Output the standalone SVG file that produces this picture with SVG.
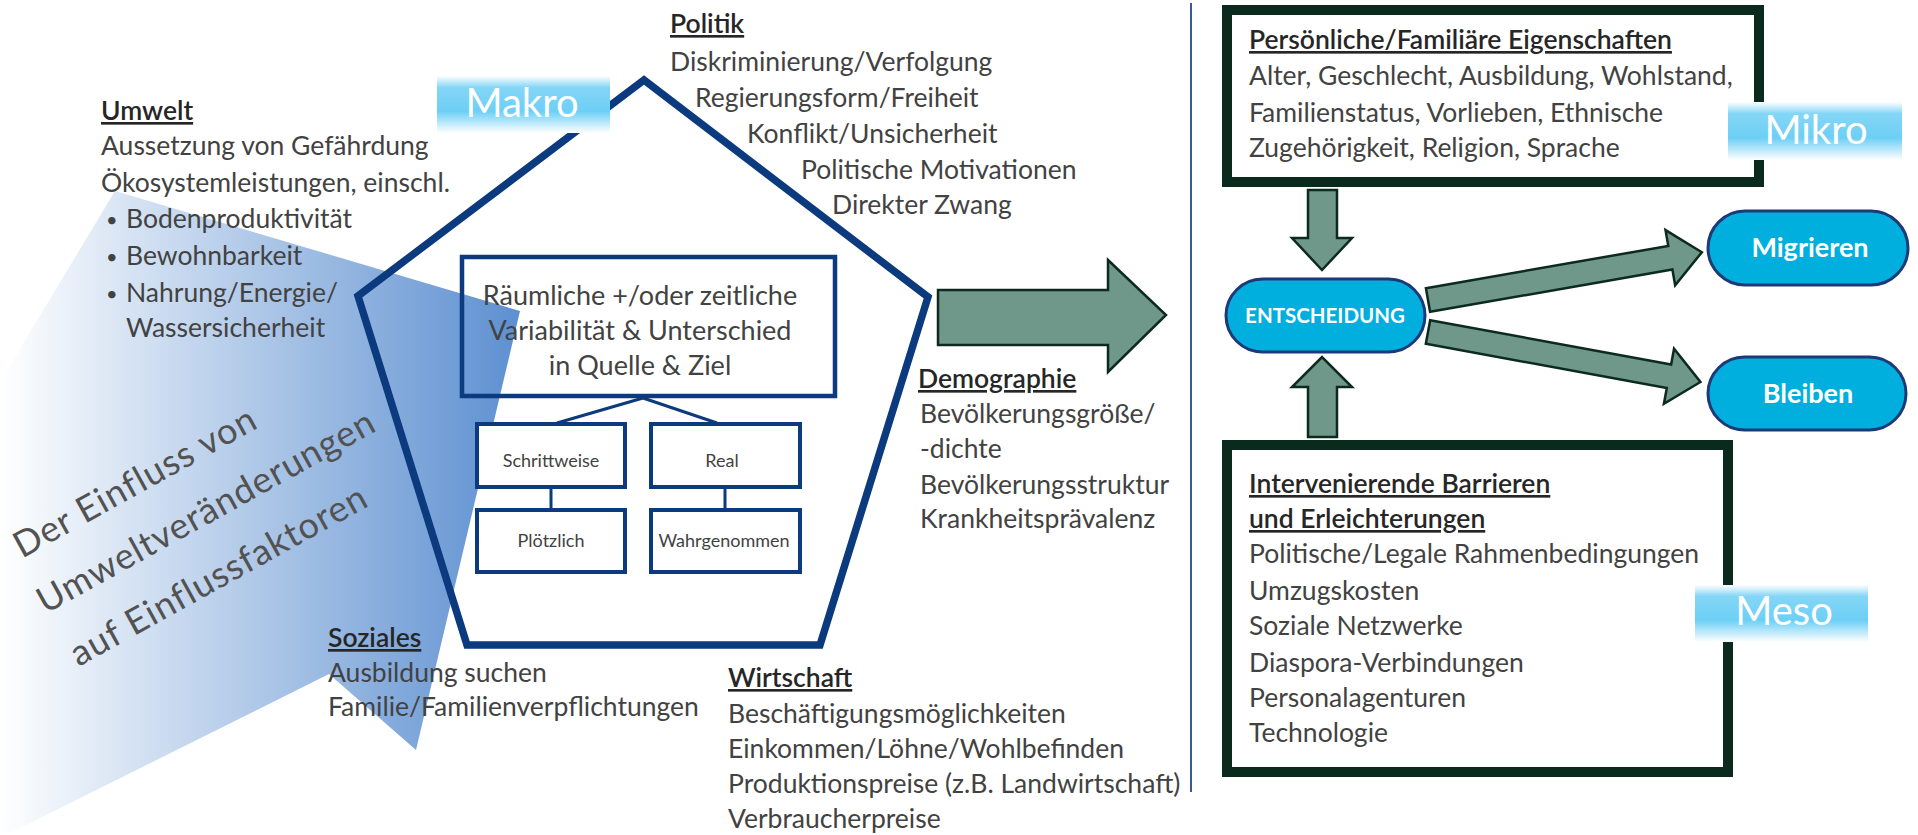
<svg xmlns="http://www.w3.org/2000/svg" width="1918" height="835" viewBox="0 0 1918 835">
<defs>
<linearGradient id="shade" gradientUnits="userSpaceOnUse" x1="0" y1="0" x2="522" y2="0">
<stop offset="0" stop-color="#ffffff"/>
<stop offset="1" stop-color="#5c8fd0"/>
</linearGradient>
<linearGradient id="lbl" x1="0" y1="0" x2="0" y2="1">
<stop offset="0" stop-color="#ffffff"/>
<stop offset="0.2" stop-color="#84d6f6"/>
<stop offset="0.62" stop-color="#6dcff6"/>
<stop offset="1" stop-color="#ffffff"/>
</linearGradient>
<style>
text{font-family:Lato,"Liberation Sans",sans-serif}
.b{font-size:26.5px;fill:#424242}
.bu{font-size:20px;fill:#424242}
.h{font-size:26.5px;fill:#262626;font-weight:600;text-decoration:underline}
.bx{font-size:27px;fill:#424242;text-anchor:middle}
.sm{font-size:18px;fill:#424242;text-anchor:middle}
.lbl{font-size:40px;fill:#ffffff;text-anchor:middle}
.pill{fill:#00afdd;stroke:#1d3a78;stroke-width:3}
.pt{fill:#ffffff;font-weight:bold;text-anchor:middle}
.gbox{fill:#ffffff;stroke:#0a2a1e;stroke-width:10}
.nav{fill:none;stroke:#0b3a7e}
.sub{fill:#ffffff;stroke:#0b3a7e;stroke-width:4}
.arr{fill:#6f978a;stroke:#0d2a1e;stroke-width:2.5;stroke-linejoin:miter}
.ln{stroke:#0b3a7e;stroke-width:3;fill:none}
</style>
</defs>
<rect width="1918" height="835" fill="#ffffff"/>

<g id="influence">
<polygon points="115,191 520,311 416,750 329,674 0,838 0,382" fill="url(#shade)"/>
<g transform="translate(212,522) rotate(-29)" font-size="36" fill="#525252" text-anchor="middle" letter-spacing="1">
<text x="-48" y="-60">Der Einfluss von</text>
<text x="0" y="0">Umweltveränderungen</text>
<text x="-20" y="62">auf Einflussfaktoren</text>
</g>
</g>

<g id="makro-pentagon">
<polygon class="nav" stroke-width="7.5" stroke-linejoin="miter" points="644,80 928,297 820,645 467,645 358,296"/>
</g>

<g id="makro-label">
<rect x="437" y="76" width="173" height="57" fill="url(#lbl)"/>
<text class="lbl" x="522" y="117">Makro</text>
</g>

<g id="umwelt">
<text class="h" x="101" y="120">Umwelt</text>
<text class="b" x="101" y="155">Aussetzung von Gefährdung</text>
<text class="b" x="101" y="192">Ökosystemleistungen, einschl.</text>
<text class="bu" x="106" y="227">•</text><text class="b" x="126" y="228">Bodenproduktivität</text>
<text class="bu" x="106" y="264">•</text><text class="b" x="126" y="265">Bewohnbarkeit</text>
<text class="bu" x="106" y="301">•</text><text class="b" x="126" y="302">Nahrung/Energie/</text>
<text class="b" x="126" y="337">Wassersicherheit</text>
</g>

<g id="politik">
<text class="h" x="670" y="33">Politik</text>
<text class="b" x="670" y="71">Diskriminierung/Verfolgung</text>
<text class="b" x="695" y="107">Regierungsform/Freiheit</text>
<text class="b" x="747" y="143">Konflikt/Unsicherheit</text>
<text class="b" x="801" y="179">Politische Motivationen</text>
<text class="b" x="832" y="214">Direkter Zwang</text>
</g>

<g id="variabilitaet">
<rect x="462" y="257" width="373" height="139" fill="none" stroke="#0b3a7e" stroke-width="4.5"/>
<text class="bx" x="640" y="305">Räumliche +/oder zeitliche</text>
<text class="bx" x="640" y="340">Variabilität &amp; Unterschied</text>
<text class="bx" x="640" y="375">in Quelle &amp; Ziel</text>
</g>

<g id="connectors-inner">
<line class="ln" x1="643" y1="398" x2="557" y2="423"/>
<line class="ln" x1="643" y1="398" x2="717" y2="423"/>
<line class="ln" x1="551" y1="488" x2="551" y2="508"/>
<line class="ln" x1="725" y1="488" x2="725" y2="508"/>
</g>

<g id="schrittweise">
<rect class="sub" x="477" y="424" width="148" height="63"/>
<text class="sm" x="551" y="467">Schrittweise</text>
</g>
<g id="real">
<rect class="sub" x="651" y="424" width="149" height="63"/>
<text class="sm" x="722" y="467">Real</text>
</g>
<g id="ploetzlich">
<rect class="sub" x="477" y="510" width="148" height="62"/>
<text class="sm" x="551" y="547">Plötzlich</text>
</g>
<g id="wahrgenommen">
<rect class="sub" x="651" y="510" width="149" height="62"/>
<text class="sm" x="724" y="547">Wahrgenommen</text>
</g>

<g id="demographie">
<text class="h" x="918" y="388">Demographie</text>
<text class="b" x="920" y="423">Bevölkerungsgröße/</text>
<text class="b" x="920" y="458">-dichte</text>
<text class="b" x="920" y="494">Bevölkerungsstruktur</text>
<text class="b" x="920" y="528">Krankheitsprävalenz</text>
</g>

<g id="soziales">
<text class="h" x="328" y="647">Soziales</text>
<text class="b" x="328" y="682">Ausbildung suchen</text>
<text class="b" x="328" y="716">Familie/Familienverpflichtungen</text>
</g>

<g id="wirtschaft">
<text class="h" x="728" y="687">Wirtschaft</text>
<text class="b" x="728" y="723">Beschäftigungsmöglichkeiten</text>
<text class="b" x="728" y="758">Einkommen/Löhne/Wohlbefinden</text>
<text class="b" x="728" y="793">Produktionspreise (z.B. Landwirtschaft)</text>
<text class="b" x="728" y="828">Verbraucherpreise</text>
</g>

<g id="divider">
<line x1="1191" y1="3" x2="1191" y2="792" stroke="#3b5894" stroke-width="2"/>
</g>

<g id="mikro-box">
<rect class="gbox" x="1227" y="10" width="532" height="172"/>
<text class="h" x="1249" y="49">Persönliche/Familiäre Eigenschaften</text>
<text class="b" x="1249" y="85">Alter, Geschlecht, Ausbildung, Wohlstand,</text>
<text class="b" x="1249" y="122">Familienstatus, Vorlieben, Ethnische</text>
<text class="b" x="1249" y="157">Zugehörigkeit, Religion, Sprache</text>
</g>
<g id="mikro-label">
<rect x="1728" y="102" width="174" height="58" fill="url(#lbl)"/>
<text class="lbl" x="1816" y="144">Mikro</text>
</g>

<g id="meso-box">
<rect class="gbox" x="1227" y="445" width="501" height="327"/>
<text class="h" x="1249" y="493">Intervenierende Barrieren</text>
<text class="h" x="1249" y="528">und Erleichterungen</text>
<text class="b" x="1249" y="563">Politische/Legale Rahmenbedingungen</text>
<text class="b" x="1249" y="600">Umzugskosten</text>
<text class="b" x="1249" y="635">Soziale Netzwerke</text>
<text class="b" x="1249" y="672">Diaspora-Verbindungen</text>
<text class="b" x="1249" y="707">Personalagenturen</text>
<text class="b" x="1249" y="742">Technologie</text>
</g>
<g id="meso-label">
<rect x="1695" y="585" width="173" height="57" fill="url(#lbl)"/>
<text class="lbl" x="1784" y="625">Meso</text>
</g>

<g id="entscheidung">
<rect class="pill" x="1226" y="279" width="199" height="73" rx="36.5"/>
<text class="pt" x="1325" y="323" font-size="20.5">ENTSCHEIDUNG</text>
</g>
<g id="migrieren">
<rect class="pill" x="1708" y="211" width="200" height="74" rx="37"/>
<text class="pt" x="1810" y="257" font-size="27">Migrieren</text>
</g>
<g id="bleiben">
<rect class="pill" x="1708" y="357" width="198" height="73" rx="36.5"/>
<text class="pt" x="1808" y="403" font-size="27">Bleiben</text>
</g>

<g id="connectors">
<path class="arr" d="M938,290 L1108,290 L1108,260 L1166,315 L1108,372 L1108,345 L938,345 Z"/>
<path class="arr" d="M1308,190 L1337,190 L1337,238 L1352,238 L1322,270 L1292,238 L1308,238 Z"/>
<path class="arr" d="M1308,437 L1337,437 L1337,387 L1352,387 L1322,357 L1292,387 L1308,387 Z"/>
<path class="arr" transform="translate(1428,300) rotate(-9.9)" d="M0,-12 L246,-12 L246,-28 L278,0 L246,28 L246,12 L0,12 Z"/>
<path class="arr" transform="translate(1428,332) rotate(10.4)" d="M0,-12 L245,-12 L245,-28 L277,0 L245,28 L245,12 L0,12 Z"/>
</g>
</svg>
